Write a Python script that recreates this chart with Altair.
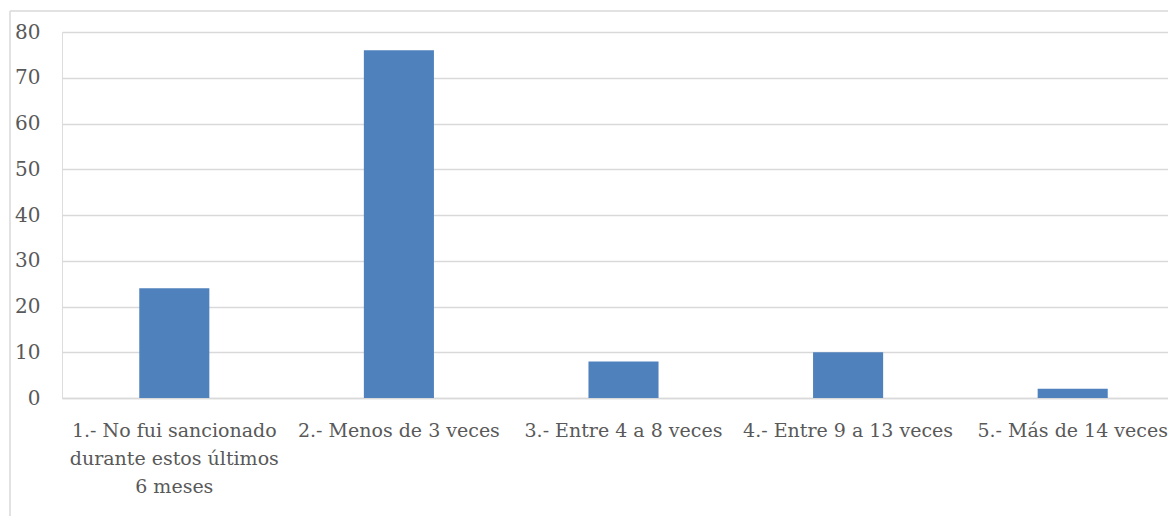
import altair as alt
import pandas as pd

categories = [
    "1.- No fui sancionado|durante estos últimos|6 meses",
    "2.- Menos de 3 veces",
    "3.- Entre 4 a 8 veces",
    "4.- Entre 9 a 13 veces",
    "5.- Más de 14 veces",
]
values = [24, 76, 8, 10, 2]
y_ticks = [0, 10, 20, 30, 40, 50, 60, 70, 80]

df = pd.DataFrame({"cat": categories, "val": values})

FONT = "DejaVu Serif"
GRAY = "#595959"
W, H = 1106, 366

bars = alt.Chart(df).mark_bar(color="#4f81bd").encode(
    x=alt.X(
        "cat:N",
        sort=categories,
        title=None,
        scale=alt.Scale(range=[0, 1123], paddingInner=0.688, paddingOuter=0.344),
        axis=alt.Axis(
            labelAngle=0,
            labelExpr="split(datum.label, '|')",
            labelLineHeight=28,
            labelPadding=23,
            labelFont=FONT,
            labelFontSize=19,
            labelColor=GRAY,
            ticks=False,
            domain=True,
            domainColor="#d9d9d9",
            domainWidth=1.5,
            grid=False,
            labelLimit=400,
            labelBaseline="top",
        ),
    ),
    y=alt.Y(
        "val:Q",
        title=None,
        scale=alt.Scale(domain=[0, 80], nice=False),
        axis=alt.Axis(
            values=y_ticks,
            labelFont=FONT,
            labelFontSize=20,
            labelColor=GRAY,
            labelPadding=22,
            ticks=False,
            domain=False,
            gridColor="#d9d9d9",
            gridWidth=1.5,
        ),
    ),
)

frame_data = alt.Data(values=[{"a": 1}])
left_line = alt.Chart(frame_data).mark_rule(color="#d9d9d9", strokeWidth=1.5).encode(
    x=alt.value(-52), y=alt.value(-21), y2=alt.value(520)
)
top_line = alt.Chart(frame_data).mark_rule(color="#d9d9d9", strokeWidth=1.5).encode(
    x=alt.value(-52), x2=alt.value(1200), y=alt.value(-21)
)

chart = alt.layer(bars, left_line, top_line).properties(
    width=W,
    height=H,
    autosize=alt.AutoSizeParams(type="none"),
    padding={"left": 54, "top": 24, "right": 0, "bottom": 118},
).configure_view(stroke=None).configure(background="white")

chart.save("out.html", embed_options={"renderer": "svg", "actions": False})
